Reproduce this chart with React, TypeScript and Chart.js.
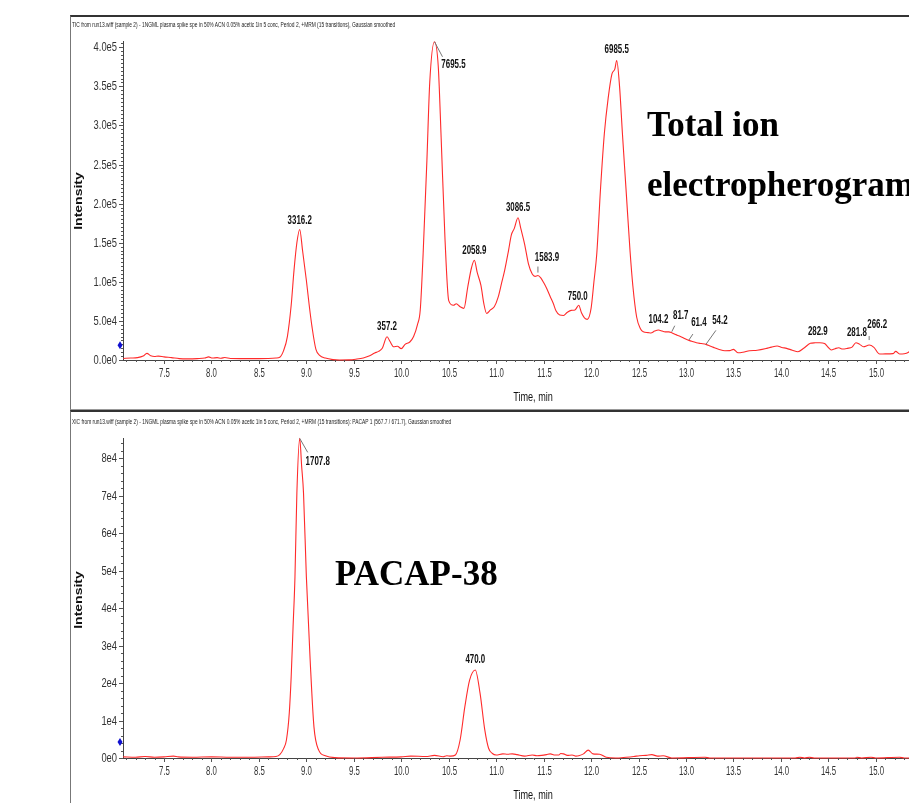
import React, { useEffect, useRef } from "react";
import { Chart, registerables } from "chart.js";
Chart.register(...registerables);

// ---------- DATA ----------
const ticTimes = [
  7.07, 7.15, 7.22, 7.28, 7.32, 7.36, 7.4, 7.44, 7.5, 7.58, 7.66, 7.75, 7.85, 7.93, 7.97, 8.01, 8.06, 8.1, 8.14, 8.2,
  8.3, 8.4, 8.5, 8.6, 8.68, 8.72, 8.76, 8.8, 8.84, 8.87, 8.9, 8.93, 8.96, 9.0, 9.03, 9.06, 9.1, 9.14, 9.2, 9.28,
  9.35, 9.45, 9.52, 9.6, 9.66, 9.72, 9.76, 9.8, 9.85, 9.88, 9.92, 9.96, 10.0, 10.04, 10.09, 10.13, 10.17, 10.2, 10.23, 10.27,
  10.3, 10.35, 10.39, 10.42, 10.46, 10.5, 10.55, 10.58, 10.62, 10.66, 10.7, 10.74, 10.77, 10.8, 10.84, 10.87, 10.9, 10.94, 10.98, 11.02,
  11.06, 11.09, 11.13, 11.16, 11.19, 11.23, 11.26, 11.3, 11.34, 11.38, 11.41, 11.44, 11.47, 11.5, 11.53, 11.57, 11.6, 11.63, 11.67, 11.71,
  11.75, 11.79, 11.83, 11.87, 11.9, 11.93, 11.96, 12.0, 12.03, 12.06, 12.1, 12.14, 12.18, 12.22, 12.25, 12.27, 12.3, 12.33, 12.37, 12.41,
  12.44, 12.48, 12.52, 12.55, 12.6, 12.63, 12.67, 12.71, 12.75, 12.78, 12.82, 12.85, 12.89, 12.93, 12.97, 13.02, 13.06, 13.11, 13.16, 13.21,
  13.26, 13.3, 13.35, 13.41, 13.46, 13.5, 13.55, 13.6, 13.67, 13.75, 13.85, 13.9, 13.96, 14.01, 14.06, 14.12, 14.18, 14.24, 14.31, 14.36,
  14.41, 14.46, 14.5, 14.53, 14.57, 14.61, 14.65, 14.7, 14.75, 14.79, 14.83, 14.87, 14.93, 14.98, 15.04, 15.1, 15.18, 15.21, 15.25, 15.3,
  15.34, 15.38, 15.42, 15.46, 15.52, 15.6, 15.71,
];
const ticValues = [
  2000, 2500, 3000, 5000, 8500, 5500, 4500, 5000, 4000, 3000, 1800, 1500, 1800, 2500, 4000, 2500, 3000, 2200, 3200, 2000,
  1800, 1800, 1800, 2000, 2500, 3500, 12000, 30000, 70000, 115000, 150000, 167000, 140000, 102000, 70000, 42000, 14000, 6000, 2500, 500,
  0, 200, 1000, 2500, 5000, 9000, 11000, 15000, 29700, 24000, 17000, 17500, 14500, 20000, 23000, 30000, 45000, 64000, 135000, 255000,
  355000, 407000, 375000, 285000, 157000, 76000, 70000, 72000, 68000, 66000, 93000, 118000, 127500, 112000, 95000, 72000, 59500, 64000, 68000, 80000,
  100000, 115000, 140000, 160000, 168000, 182000, 168000, 148000, 123000, 110000, 107000, 108000, 105000, 99000, 92000, 81000, 73000, 63000, 57500, 57000,
  61000, 63500, 64000, 70000, 60000, 54000, 52000, 66000, 100000, 136000, 220000, 290000, 335000, 366000, 372000, 383000, 350000, 290000, 215000, 140000,
  95000, 55000, 40000, 36000, 35000, 34500, 37000, 38300, 37000, 36000, 36000, 34900, 32500, 30600, 28500, 25500, 24000, 22100, 21000, 20000,
  17500, 15700, 13500, 11900, 12000, 13600, 9300, 10000, 11900, 12500, 14900, 16500, 17900, 16000, 14900, 12500, 10600, 15000, 21300, 22000,
  22100, 21000, 16000, 12800, 14500, 15700, 14000, 14900, 16500, 22100, 20000, 17000, 19100, 16200, 7700, 7800, 8100, 11000, 7700, 8000,
  9500, 14000, 20000, 15000, 10000, 8000, 7000,
];

const xicTimes = [
  7.07, 7.2, 7.3, 7.4, 7.5, 7.6, 7.65, 7.8, 8.0, 8.2, 8.4, 8.6, 8.68, 8.72, 8.76, 8.79, 8.82, 8.84, 8.86, 8.88,
  8.9, 8.93, 8.95, 8.97, 9.0, 9.04, 9.08, 9.13, 9.2, 9.3, 9.5, 9.8, 10.0, 10.1, 10.26, 10.35, 10.44, 10.48, 10.52, 10.57,
  10.62, 10.67, 10.72, 10.78, 10.83, 10.88, 10.92, 10.96, 11.0, 11.07, 11.12, 11.17, 11.22, 11.3, 11.38, 11.43, 11.48, 11.53, 11.57, 11.62,
  11.66, 11.68, 11.71, 11.75, 11.8, 11.84, 11.87, 11.92, 11.97, 12.02, 12.09, 12.16, 12.26, 12.37, 12.45, 12.51, 12.58, 12.64, 12.7, 12.76,
  12.85, 13.2, 13.25, 14.15, 14.2, 14.25, 14.3, 14.35, 14.78, 14.8, 14.85, 14.95, 15.0, 15.25, 15.3, 15.71,
];
const xicValues = [
  300, 200, 400, 200, 300, 500, 300, 200, 300, 200, 200, 300, 400, 900, 2500, 4800, 12000, 21700, 35000, 48400,
  70700, 85300, 78000, 70700, 48400, 26100, 8300, 2100, 600, 100, 0, 200, 300, 500, 400, 700, 350, 600, 500, 800,
  4800, 13700, 20800, 23500, 17300, 7500, 2600, 1200, 800, 1100, 1000, 1100, 900, 500, 800, 600, 700, 900, 1100, 800,
  800, 1200, 1100, 700, 800, 500, 600, 1100, 2100, 1100, 1000, 200, 0, 200, 400, 600, 700, 900, 500, 600,
  0, 200, 0, 0, 200, 0, 200, 0, 0, 200, 0, 200, 0, 200, 0, 0,
];

const xTickValues = [7.5, 8.0, 8.5, 9.0, 9.5, 10.0, 10.5, 11.0, 11.5, 12.0, 12.5, 13.0, 13.5, 14.0, 14.5, 15.0, 15.5];
const xTickLabels = ["7.5", "8.0", "8.5", "9.0", "9.5", "10.0", "10.5", "11.0", "11.5", "12.0", "12.5", "13.0", "13.5", "14.0", "14.5", "15.0", "15.5"];
const topYTickValues = [0, 50000, 100000, 150000, 200000, 250000, 300000, 350000, 400000];
const topYTickLabels = ["0.0e0", "5.0e4", "1.0e5", "1.5e5", "2.0e5", "2.5e5", "3.0e5", "3.5e5", "4.0e5"];
const botYTickValues = [0, 10000, 20000, 30000, 40000, 50000, 60000, 70000, 80000];
const botYTickLabels = ["0e0", "1e4", "2e4", "3e4", "4e4", "5e4", "6e4", "7e4", "8e4"];

const topPeakTimes = [8.93, 9.85, 10.35, 10.77, 11.23, 11.44, 11.87, 12.27, 12.71, 12.85, 13.02, 13.21, 14.41, 14.79, 14.93];
const topPeakLabels = ["3316.2", "357.2", "7695.5", "2058.9", "3086.5", "1583.9", "750.0", "6985.5", "104.2", "81.7", "61.4", "54.2", "282.9", "281.8", "266.2"];
const botPeakTimes = [8.93, 10.78];
const botPeakLabels = ["1707.8", "470.0"];

const topThreshold = 19000;
const botThreshold = 4300;

const topTitle =
  "TIC from run13.wiff (sample 2) - 1NGML plasma spike spe in 50% ACN 0.05% acetic 1in 5 conc, Period 2, +MRM (15 transitions), Gaussian smoothed";
const botTitle =
  "XIC from run13.wiff (sample 2) - 1NGML plasma spike spe in 50% ACN 0.05% acetic 1in 5 conc, Period 2, +MRM (15 transitions): PACAP 1 (567.7 / 671.7), Gaussian smoothed";

// ---------- STYLE / LAYOUT (not data) ----------
type LabelLayout = { dx: number; dy: number; lead?: [number, number, number, number] };
const topLabelLayout: LabelLayout[] = [
  { dx: 0, dy: -9 },
  { dx: 0, dy: -10 },
  { dx: 19, dy: 23, lead: [0, 0, 8, 15] },
  { dx: 0, dy: -10 },
  { dx: 0, dy: -10 },
  { dx: 9, dy: -18, lead: [0, -3, 0, -9] },
  { dx: -1, dy: -9 },
  { dx: 0, dy: -11 },
  { dx: 0, dy: -10 },
  { dx: 9, dy: -17, lead: [0, -1, 3, -7] },
  { dx: 11, dy: -17, lead: [1, 0, 5, -6] },
  { dx: 14, dy: -24, lead: [0, 0, 10, -14] },
  { dx: -2, dy: -11 },
  { dx: 1, dy: -10 },
  { dx: 8, dy: -20, lead: [0, -5, 0, -9] },
];
const botLabelLayout: LabelLayout[] = [
  { dx: 18, dy: 23, lead: [0, 0, 8, 14] },
  { dx: 0, dy: -10 },
];

const SANS = "Arial, 'Liberation Sans', sans-serif";

function nearestValue(times: number[], values: number[], t: number) {
  let best = 0;
  for (let i = 0; i < times.length; i++) {
    if (Math.abs(times[i] - t) < Math.abs(times[best] - t)) best = i;
  }
  return values[best];
}

function drawSquished(ctx: CanvasRenderingContext2D, text: string, x: number, y: number, sx: number, align: CanvasTextAlign) {
  ctx.save();
  ctx.translate(x, y);
  ctx.scale(sx, 1);
  ctx.textAlign = align;
  ctx.fillText(text, 0, 0);
  ctx.restore();
}

type PanelProps = {
  times: number[];
  values: number[];
  yMax: number;
  yTickValues: number[];
  yTickLabels: string[];
  yMinorStep: number;
  peakTimes: number[];
  peakLabels: string[];
  labelLayout: LabelLayout[];
  threshold: number;
  top: number;
  padTop: number;
  xHeight: number;
};

function Panel(p: PanelProps) {
  const ref = useRef<HTMLCanvasElement | null>(null);
  useEffect(() => {
    const canvas = ref.current!;
    const decor = {
      id: "decor",
      afterDatasetsDraw(chart: any) {
        const ctx: CanvasRenderingContext2D = chart.ctx;
        const xs = chart.scales.x;
        const ys = chart.scales.y;
        const { left, bottom } = chart.chartArea;
        ctx.save();
        ctx.strokeStyle = "#555";
        ctx.lineWidth = 1;
        // y major ticks + labels
        ctx.fillStyle = "#333";
        ctx.font = `13px ${SANS}`;
        ctx.textBaseline = "middle";
        p.yTickValues.forEach((v, i) => {
          const y = Math.round(ys.getPixelForValue(v)) + 0.5;
          ctx.beginPath();
          ctx.moveTo(left - 4, y);
          ctx.lineTo(left, y);
          ctx.stroke();
          drawSquished(ctx, p.yTickLabels[i], left - 6, y, 0.72, "right");
        });
        // y minor ticks
        for (let v = 0; v <= p.yMax; v += p.yMinorStep) {
          const y = Math.round(ys.getPixelForValue(v)) + 0.5;
          ctx.beginPath();
          ctx.moveTo(left - 2, y);
          ctx.lineTo(left, y);
          ctx.stroke();
        }
        // x major ticks + labels
        ctx.textBaseline = "top";
        xTickValues.forEach((v, i) => {
          const x = Math.round(xs.getPixelForValue(v)) + 0.5;
          ctx.beginPath();
          ctx.moveTo(x, bottom);
          ctx.lineTo(x, bottom + 4);
          ctx.stroke();
          drawSquished(ctx, xTickLabels[i], x, bottom + 7, 0.6, "center");
        });
        for (let k = 71; k <= 157; k++) {
          const x = Math.round(xs.getPixelForValue(k / 10)) + 0.5;
          ctx.beginPath();
          ctx.moveTo(x, bottom);
          ctx.lineTo(x, bottom + 2);
          ctx.stroke();
        }
        // threshold diamond
        const ty = ys.getPixelForValue(p.threshold);
        ctx.fillStyle = "#1010d0";
        ctx.beginPath();
        ctx.moveTo(left - 3, ty - 4);
        ctx.lineTo(left - 0.5, ty);
        ctx.lineTo(left - 3, ty + 4);
        ctx.lineTo(left - 5.5, ty);
        ctx.closePath();
        ctx.fill();
        // peak labels
        ctx.font = `bold 12px ${SANS}`;
        ctx.textBaseline = "middle";
        p.peakTimes.forEach((t, i) => {
          const v = nearestValue(p.times, p.values, t);
          const px = xs.getPixelForValue(t);
          const py = ys.getPixelForValue(v);
          const lay = p.labelLayout[i];
          if (lay.lead) {
            ctx.strokeStyle = "#777";
            ctx.beginPath();
            ctx.moveTo(px + lay.lead[0], py + lay.lead[1]);
            ctx.lineTo(px + lay.lead[2], py + lay.lead[3]);
            ctx.stroke();
          }
          ctx.fillStyle = "#111";
          drawSquished(ctx, p.peakLabels[i], px + lay.dx, py + lay.dy, 0.66, "center");
        });
        ctx.restore();
      },
    };
    const chart = new Chart(canvas, {
      type: "line",
      data: {
        datasets: [
          {
            data: p.times.map((t, i) => ({ x: t, y: p.values[i] })),
            borderColor: "#ff2b2b",
            borderWidth: 1.1,
            pointRadius: 0,
            cubicInterpolationMode: "monotone",
            fill: false,
            clip: 3,
          },
        ],
      },
      options: {
        animation: false,
        responsive: false,
        devicePixelRatio: 1,
        layout: { padding: { left: 0, right: 17, top: p.padTop, bottom: 0 } },
        plugins: { legend: { display: false }, tooltip: { enabled: false }, title: { display: false } },
        scales: {
          x: {
            type: "linear",
            min: 7.068,
            max: 15.708,
            grid: { display: false },
            ticks: { display: false },
            border: { display: true, color: "#444", width: 1 },
            afterFit: (s: any) => {
              s.height = p.xHeight;
            },
          },
          y: {
            type: "linear",
            min: 0,
            max: p.yMax,
            grid: { display: false },
            ticks: { display: false },
            border: { display: true, color: "#444", width: 1 },
            afterFit: (s: any) => {
              s.width = 53;
            },
          },
        },
      } as any,
      plugins: [decor],
    });
    return () => chart.destroy();
  }, []);
  return (
    <canvas
      ref={ref}
      width={890}
      height={392}
      style={{ position: "absolute", left: 70, top: p.top, width: 890, height: 392 }}
    />
  );
}

const squish = (sx: number): React.CSSProperties => ({ transform: `scaleX(${sx})`, transformOrigin: "left top" });

export default function App() {
  const big: React.CSSProperties = {
    position: "absolute",
    fontFamily: "'Liberation Serif', 'Times New Roman', serif",
    fontWeight: "bold",
    fontSize: 35,
    lineHeight: "35px",
    color: "#000",
    whiteSpace: "nowrap",
  };
  const tiny: React.CSSProperties = {
    position: "absolute",
    left: 72,
    fontFamily: SANS,
    fontSize: 7,
    lineHeight: "7px",
    color: "#222",
    whiteSpace: "nowrap",
    ...squish(0.695),
  };
  const intensity = (cy: number): React.CSSProperties => ({
    position: "absolute",
    left: 78,
    top: cy,
    fontFamily: SANS,
    fontWeight: "bold",
    fontSize: 14,
    lineHeight: "14px",
    color: "#111",
    whiteSpace: "nowrap",
    transform: "translate(-50%, -50%) scaleX(0.75) rotate(-90deg)",
  });
  const timeLbl = (cy: number): React.CSSProperties => ({
    position: "absolute",
    left: 533,
    top: cy,
    fontFamily: SANS,
    fontSize: 13,
    lineHeight: "13px",
    color: "#111",
    whiteSpace: "nowrap",
    transform: "translate(-50%, -50%) scaleX(0.7)",
  });
  return (
    <div style={{ position: "absolute", left: 0, top: 0, width: 909, height: 803, overflow: "hidden", background: "#fff" }}>
      <div style={{ position: "absolute", left: 70, top: 15, width: 900, height: 392, borderTop: "2px solid #333", borderLeft: "1px solid #777", borderBottom: "1px solid #999" }} />
      <div style={{ position: "absolute", left: 70, top: 410, width: 900, height: 400, borderTop: "2px solid #333", borderLeft: "1px solid #777" }} />
      <Panel
        times={ticTimes}
        values={ticValues}
        yMax={408000}
        yTickValues={topYTickValues}
        yTickLabels={topYTickLabels}
        yMinorStep={5000}
        peakTimes={topPeakTimes}
        peakLabels={topPeakLabels}
        labelLayout={topLabelLayout}
        threshold={topThreshold}
        top={16}
        padTop={25}
        xHeight={48}
      />
      <Panel
        times={xicTimes}
        values={xicValues}
        yMax={85400}
        yTickValues={botYTickValues}
        yTickLabels={botYTickLabels}
        yMinorStep={2000}
        peakTimes={botPeakTimes}
        peakLabels={botPeakLabels}
        labelLayout={botLabelLayout}
        threshold={botThreshold}
        top={411}
        padTop={27}
        xHeight={45}
      />
      <div style={{ ...tiny, top: 21 }}>{topTitle}</div>
      <div style={{ ...tiny, top: 418 }}>{botTitle}</div>
      <div style={intensity(201)}>Intensity</div>
      <div style={intensity(600)}>Intensity</div>
      <div style={timeLbl(396)}>Time, min</div>
      <div style={timeLbl(794)}>Time, min</div>
      <div style={{ ...big, left: 647, top: 107 }}>Total ion</div>
      <div style={{ ...big, left: 647, top: 167 }}>electropherogram</div>
      <div style={{ ...big, left: 335, top: 556 }}>PACAP-38</div>
    </div>
  );
}
